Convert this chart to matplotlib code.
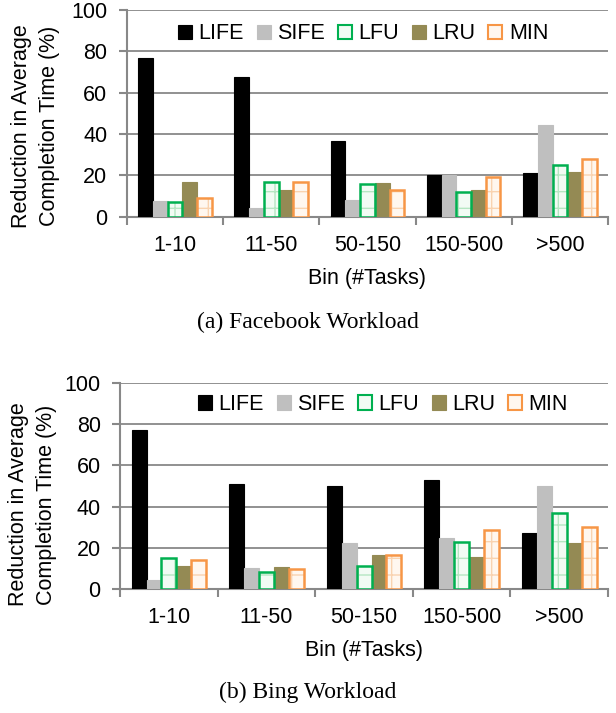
import matplotlib.pyplot as plt
import numpy as np

plt.rcParams['font.family'] = ['Liberation Sans', 'DejaVu Sans']

bins = ['1-10', '11-50', '50-150', '150-500', '>500']
policies = ['LIFE', 'SIFE', 'LFU', 'LRU', 'MIN']

facebook = {
    'LIFE': [76.7, 67.7, 36.7, 20.4, 21.4],
    'SIFE': [7.6, 4.2, 8.0, 20.4, 44.2],
    'LFU': [6.9, 16.6, 15.6, 11.9, 25.2],
    'LRU': [16.9, 12.7, 16.2, 12.7, 21.5],
    'MIN': [9.2, 16.6, 12.9, 19.0, 28.0],
}
bing = {
    'LIFE': [77.1, 51.0, 49.8, 52.7, 27.1],
    'SIFE': [4.5, 10.3, 22.1, 24.5, 50.0],
    'LFU': [15.0, 8.2, 11.1, 22.6, 36.8],
    'LRU': [11.3, 10.8, 16.3, 15.6, 22.1],
    'MIN': [13.9, 9.7, 16.5, 28.4, 30.2],
}

# face, edge, hatch colour (None = solid)
styles = {
    'LIFE': ('#000000', '#000000', None),
    'SIFE': ('#bfbfbf', '#bfbfbf', None),
    'LFU': ('#f2fbf4', '#00b050', '#b5e6c2'),
    'LRU': ('#948a54', '#948a54', None),
    'MIN': ('#fff7ef', '#f79646', '#f9d3b0'),
}

FS = 15.5

fig = plt.figure(figsize=(6.16, 7.13), dpi=100)
ax1 = fig.add_axes([0.206, 0.696, 0.781, 0.290])
ax2 = fig.add_axes([0.195, 0.174, 0.792, 0.289])

width = 0.153
x = np.arange(len(bins))


def draw(ax, data, leg_xy, ylab_xy):
    for i, p in enumerate(policies):
        face, edge, hcol = styles[p]
        pos = x + (i - 2) * width
        if hcol is None:
            ax.bar(pos, data[p], width, color=face, edgecolor=edge, linewidth=0.8, label=p, zorder=3)
        else:
            ax.bar(pos, data[p], width, color=face, edgecolor=hcol, hatch='+', linewidth=0, zorder=3)
            ax.bar(pos, data[p], width, facecolor='none', edgecolor=edge, linewidth=1.8, zorder=4)
            ax.bar([0], [0], 0, color=face, edgecolor=edge, linewidth=1.5, label=p)
    ax.set_xlim(-0.5, 4.5)
    ax.set_ylim(0, 100)
    ax.set_yticks(range(0, 101, 20))
    ax.set_xticks(np.arange(-0.5, 5, 1))
    ax.set_xticklabels([])
    ax.set_xticks(x, minor=True)
    ax.set_xticklabels(bins, minor=True, fontsize=FS)
    ax.tick_params(axis='x', which='minor', length=0, pad=13)
    ax.tick_params(axis='x', which='major', length=6, width=1.5, color='#888888')
    ax.tick_params(axis='y', length=6, width=1.5, color='#888888', labelsize=FS, pad=8)
    ax.grid(axis='y', color='#888888', linewidth=1.3, zorder=0)
    for s in ['top', 'right']:
        ax.spines[s].set_visible(False)
    for s in ['left', 'bottom']:
        ax.spines[s].set_color('#888888')
        ax.spines[s].set_linewidth(1.5)
    ax.set_xlabel('Bin (#Tasks)', fontsize=FS, labelpad=9)
    ax.set_ylabel('Reduction in Average\nCompletion Time (%)', fontsize=FS, linespacing=1.45)
    ax.yaxis.set_label_coords(*ylab_xy)
    ax.legend(loc='center', bbox_to_anchor=leg_xy, ncol=5, frameon=False,
              fontsize=FS, handlelength=0.65, handleheight=0.65, handletextpad=0.3,
              columnspacing=0.6, borderaxespad=0.0, borderpad=0.0)


draw(ax1, facebook, (0.491, 0.885), (-0.139, 0.44))
draw(ax2, bing, (0.539, 0.895), (-0.129, 0.41))

fig.text(0.5, 1 - 322 / 713, '(a) Facebook Workload', ha='center', va='center',
         fontsize=17, family=['Liberation Serif', 'DejaVu Serif'])
fig.text(0.5, 1 - 692 / 713, '(b) Bing Workload', ha='center', va='center',
         fontsize=17, family=['Liberation Serif', 'DejaVu Serif'])

fig.savefig('out.png', dpi=100)
